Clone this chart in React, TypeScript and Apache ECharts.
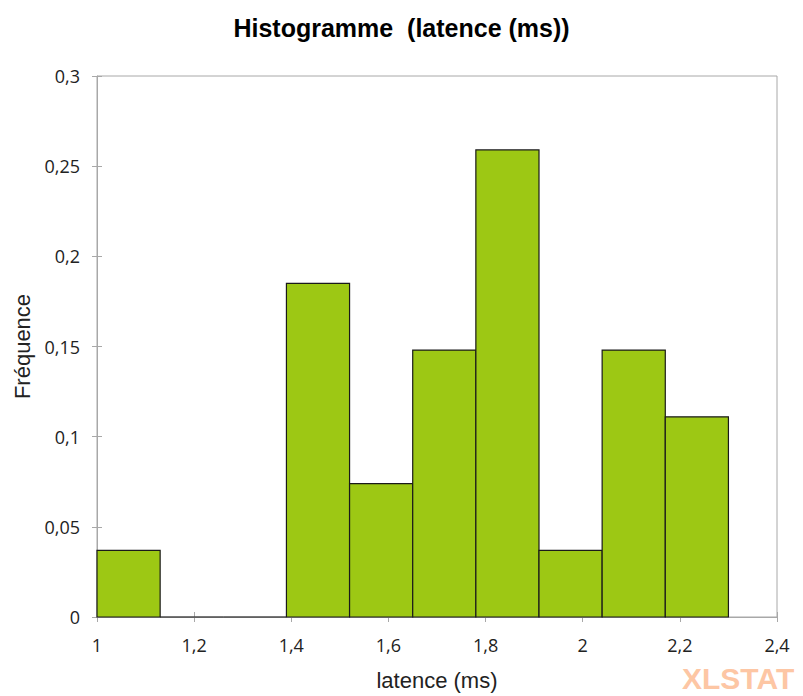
import React, { useEffect, useRef } from "react";
import * as echarts from "echarts";

const binStarts = [1.0, 1.13, 1.26, 1.39, 1.52, 1.65, 1.78, 1.91, 2.04, 2.17];
const binEnds = [1.13, 1.26, 1.39, 1.52, 1.65, 1.78, 1.91, 2.04, 2.17, 2.3];
const frequencies = [0.037, 0, 0, 0.185, 0.074, 0.148, 0.259, 0.037, 0.148, 0.111];

const fmt = (v: number) => String(Math.round(v * 1000) / 1000).replace(".", ",");

export default function App() {
  const ref = useRef<HTMLDivElement>(null);
  useEffect(() => {
    if (!ref.current) return;
    const chart = echarts.init(ref.current, undefined, { renderer: "svg" });
    const data = binStarts.map((s, i) => [s, binEnds[i], frequencies[i]]);
    const axisLabelFont = { fontFamily: "Open Sans", fontSize: 18, color: "#222" };
    const gray = "#a8a8a8";
    const xBase = { type: "value", min: 1, max: 2.4, interval: 0.2, position: "bottom" };
    const yBase = { type: "value", min: 0, max: 0.3, interval: 0.05, position: "left" };
    chart.setOption({
      animation: false,
      backgroundColor: "#fff",
      title: {
        text: "Histogramme  (latence (ms))",
        left: "center",
        top: 10,
        textStyle: { fontFamily: "Liberation Sans", fontWeight: "bold", fontSize: 25, color: "#000" },
      },
      grid: { left: 97, right: 26, top: 76, bottom: 78, show: true, borderColor: gray, borderWidth: 1 },
      xAxis: [
        {
          ...xBase,
          name: "latence (ms)",
          nameLocation: "middle",
          nameGap: 52,
          nameTextStyle: { fontFamily: "Liberation Sans", fontSize: 22, color: "#222" },
          axisLine: { show: true, lineStyle: { color: gray } },
          axisTick: { show: true, length: 5, lineStyle: { color: gray } },
          axisLabel: { ...axisLabelFont, margin: 19, formatter: fmt },
          splitLine: { show: false },
        },
        {
          ...xBase,
          axisLine: { show: false },
          axisTick: { show: true, inside: true, length: 5, lineStyle: { color: gray } },
          axisLabel: { show: false },
          splitLine: { show: false },
        },
      ],
      yAxis: [
        {
          ...yBase,
          name: "Fréquence",
          nameLocation: "middle",
          nameGap: 62,
          nameTextStyle: { fontFamily: "Liberation Sans", fontSize: 22, color: "#222" },
          axisLine: { show: true, lineStyle: { color: gray } },
          axisTick: { show: true, length: 5, lineStyle: { color: gray } },
          axisLabel: { ...axisLabelFont, margin: 17, formatter: fmt },
          splitLine: { show: false },
        },
        {
          ...yBase,
          axisLine: { show: false },
          axisTick: { show: true, inside: true, length: 5, lineStyle: { color: gray } },
          axisLabel: { show: false },
          splitLine: { show: false },
        },
      ],
      series: [
        {
          type: "custom",
          xAxisIndex: 0,
          yAxisIndex: 0,
          data,
          renderItem: (params: any, api: any) => {
            const start = api.coord([api.value(0), api.value(2)]);
            const end = api.coord([api.value(1), 0]);
            return {
              type: "rect",
              shape: { x: start[0], y: start[1], width: end[0] - start[0], height: end[1] - start[1] },
              style: { fill: "#9dc814", stroke: "#1a1a1a", lineWidth: 1.2 },
            };
          },
          encode: { x: [0, 1], y: 2 },
        },
      ],
      graphic: [
        {
          type: "text",
          left: 682,
          top: 663,
          style: {
            text: "XLSTAT",
            fontFamily: "Liberation Sans",
            fontWeight: "bold",
            fontSize: 30,
            fill: "#fdc6a4",
          },
        },
      ],
    });
    return () => chart.dispose();
  }, []);
  return <div ref={ref} style={{ position: "fixed", left: 0, top: 0, width: 803, height: 696 }} />;
}
